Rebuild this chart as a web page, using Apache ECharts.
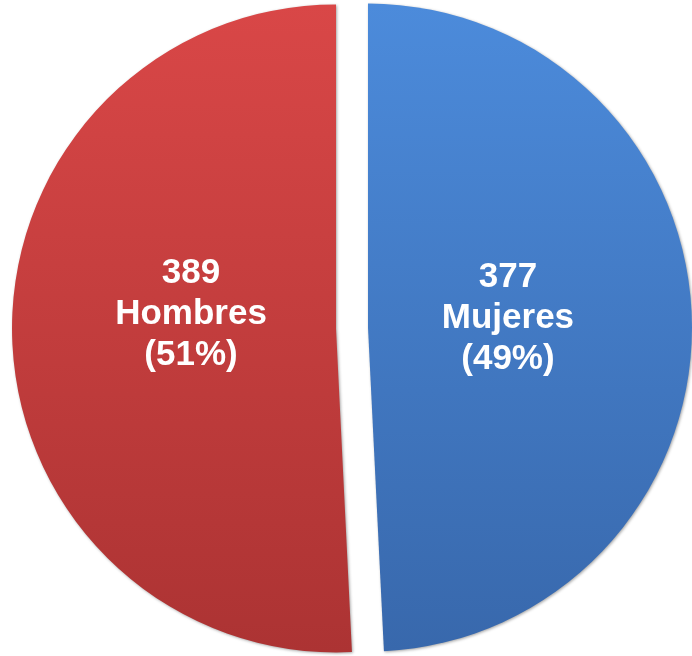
<!DOCTYPE html>
<html lang="es">
<head>
    <meta charset="UTF-8">
    <title></title>
    <style type="text/css">
        html,body{margin:0;padding:0;background:#fff;}
        #main{width:692px;height:656px;}
    </style>
</head>
<body>
<div id="main"></div>
<script src="https://cdn.jsdelivr.net/npm/echarts@6/dist/echarts.min.js"></script>
<script>
    // datos
    var categorias = ['Mujeres', 'Hombres'];
    var valores = [377, 389];
    var porcentajes = ['49%', '51%'];

    var colores = [
        ['#4c8bdb', '#3868ac'],
        ['#d94747', '#ac3333']
    ];
    // ajuste de la posicion de las etiquetas
    var desplazamientos = [[-25, -5], [20, -18]];

    var myChart = echarts.init(document.getElementById('main'));

    var datos = categorias.map(function (nombre, i) {
        return {
            name: nombre,
            value: valores[i],
            selected: true,
            itemStyle: {
                color: new echarts.graphic.LinearGradient(0, 0, 0, 1, [
                    {offset: 0, color: colores[i][0]},
                    {offset: 1, color: colores[i][1]}
                ])
            }
        };
    });

    var option = {
        animation: false,
        series: [{
            type: 'pie',
            center: [352, 328],
            radius: 324,
            startAngle: 90,
            clockwise: true,
            selectedMode: 'multiple',
            selectedOffset: 16,
            emphasis: {disabled: true},
            itemStyle: {
                shadowBlur: 3,
                shadowColor: 'rgba(0,0,0,0.35)',
                shadowOffsetX: 1,
                shadowOffsetY: 1
            },
            label: {
                show: true,
                position: 'inside',
                color: '#fff',
                fontFamily: 'Liberation Sans, Arial, sans-serif',
                fontWeight: 'bold',
                fontSize: 35,
                lineHeight: 41,
                align: 'center',
                formatter: function (p) {
                    return p.value + '\n' + p.name + '\n(' + porcentajes[p.dataIndex] + ')';
                }
            },
            labelLayout: function (params) {
                var d = desplazamientos[params.dataIndex];
                return {dx: d[0], dy: d[1]};
            },
            labelLine: {show: false},
            data: datos
        }]
    };

    myChart.setOption(option);
</script>
</body>
</html>
